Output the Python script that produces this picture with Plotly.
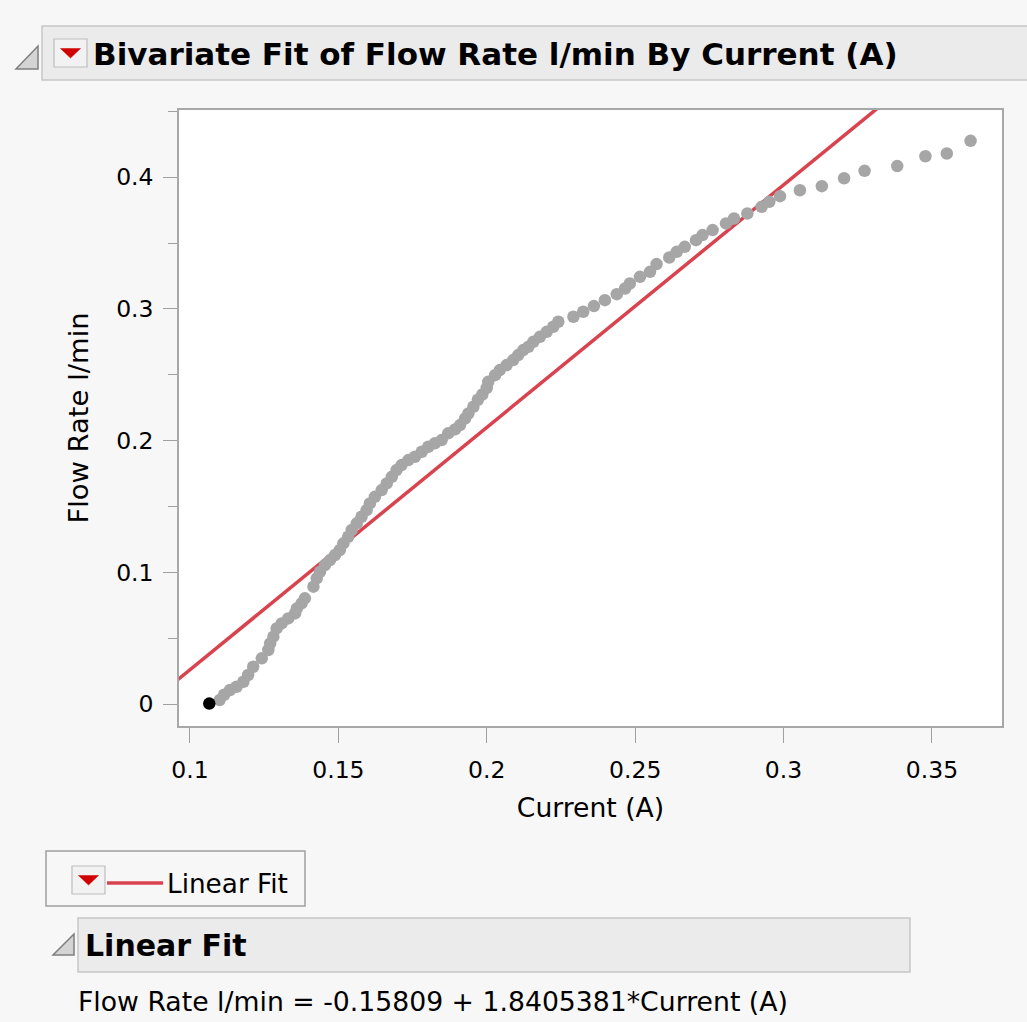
import plotly.graph_objects as go

# ---------------- data ----------------
current = [0.1100, 0.1115, 0.1135, 0.1157, 0.1180, 0.1196, 0.1213, 0.1242, 0.1264, 0.1270,
           0.1281, 0.1292, 0.1309, 0.1331, 0.1354, 0.1360, 0.1376, 0.1387, 0.1416, 0.1427,
           0.1438, 0.1455, 0.1472, 0.1489, 0.1505, 0.1517, 0.1533, 0.1545, 0.1562, 0.1578,
           0.1595, 0.1606, 0.1623, 0.1646, 0.1663, 0.1680, 0.1696, 0.1713, 0.1736, 0.1758,
           0.1781, 0.1803, 0.1825, 0.1848, 0.1870, 0.1893, 0.1910, 0.1927, 0.1938, 0.1955,
           0.1970, 0.1985, 0.2000, 0.2005, 0.2028, 0.2044, 0.2067, 0.2089, 0.2106, 0.2123,
           0.2140, 0.2157, 0.2179, 0.2202, 0.2224, 0.2241, 0.2292, 0.2325, 0.2361, 0.2398,
           0.2438, 0.2466, 0.2482, 0.2516, 0.2550, 0.2572, 0.2615, 0.2640, 0.2667, 0.2705,
           0.2727, 0.2761, 0.2806, 0.2833, 0.2878, 0.2926, 0.2952, 0.2988, 0.3055, 0.3129,
           0.3204, 0.3273, 0.3383, 0.3478, 0.3550, 0.3630]
flow_rate = [0.0030, 0.0070, 0.0106, 0.0131, 0.0169, 0.0220, 0.0283, 0.0347, 0.0410, 0.0460,
             0.0511, 0.0574, 0.0612, 0.0650, 0.0688, 0.0726, 0.0764, 0.0802, 0.0891, 0.0954,
             0.1004, 0.1055, 0.1093, 0.1131, 0.1169, 0.1220, 0.1270, 0.1321, 0.1372, 0.1422,
             0.1472, 0.1523, 0.1573, 0.1624, 0.1675, 0.1725, 0.1776, 0.1814, 0.1852, 0.1877,
             0.1915, 0.1953, 0.1979, 0.2004, 0.2055, 0.2085, 0.2118, 0.2168, 0.2206, 0.2257,
             0.2310, 0.2350, 0.2400, 0.2446, 0.2497, 0.2535, 0.2573, 0.2611, 0.2649, 0.2687,
             0.2712, 0.2750, 0.2788, 0.2826, 0.2864, 0.2902, 0.2940, 0.2978, 0.3021, 0.3066,
             0.3112, 0.3155, 0.3193, 0.3243, 0.3281, 0.3340, 0.3390, 0.3433, 0.3471, 0.3522,
             0.3560, 0.3598, 0.3649, 0.3686, 0.3724, 0.3775, 0.3813, 0.3856, 0.3901, 0.3932,
             0.3992, 0.4048, 0.4084, 0.4159, 0.4180, 0.4276]
selected_current = [0.1065]
selected_flow = [0.0003]

intercept = -0.15809
slope = 1.8405381
fit_x = [0.0960, 0.3740]
fit_y = [intercept + slope * v for v in fit_x]

x_range = [0.0963, 0.3736]
y_range = [-0.0167, 0.4510]

title_text = "Bivariate Fit of Flow Rate l/min By Current (A)"
x_title = "Current (A)"
y_title = "Flow Rate l/min"
legend_label = "Linear Fit"
section_title = "Linear Fit"
equation = "Flow Rate l/min = -0.15809 + 1.8405381*Current (A)"

# ---------------- layout helpers ----------------
W, H = 1027, 1022
L, R, T, B = 179, 1002, 110, 726
FONT = "DejaVu Sans, Open Sans, sans-serif"
RED = "#d8434f"


def px(x):
    return (x - L) / (R - L)


def py(y):
    return (B - y) / (B - T)


fig = go.Figure()
fig.add_trace(go.Scatter(x=fit_x, y=fit_y, mode="lines",
                         line=dict(color=RED, width=3.5), hoverinfo="skip"))
fig.add_trace(go.Scatter(x=current, y=flow_rate, mode="markers",
                         marker=dict(color="#a6a6a6", size=12.5, line=dict(width=0))))
fig.add_trace(go.Scatter(x=selected_current, y=selected_flow, mode="markers",
                         marker=dict(color="#000000", size=12.5, line=dict(width=0))))

shapes = []
annotations = []


def rect(x0, y0, x1, y1, fill, line, lw=1.5):
    shapes.append(dict(type="rect", xref="paper", yref="paper",
                       x0=px(x0), x1=px(x1), y0=py(y1), y1=py(y0),
                       fillcolor=fill, line=dict(color=line, width=lw), layer="below"))


def poly(points, fill, line, lw=1):
    path = "M " + " L ".join(f"{px(a):.5f},{py(b):.5f}" for a, b in points) + " Z"
    shapes.append(dict(type="path", xref="paper", yref="paper", path=path,
                       fillcolor=fill, line=dict(color=line, width=lw), layer="above"))


def text(x, y, s, size, bold=False, xanchor="left", color="#000000"):
    annotations.append(dict(xref="paper", yref="paper", x=px(x), y=py(y),
                            text=f"<b>{s}</b>" if bold else s, showarrow=False,
                            xanchor=xanchor, yanchor="middle",
                            font=dict(family=FONT, size=size, color=color)))


def button(x0, y0, x1, y1):
    shapes.append(dict(type="rect", xref="paper", yref="paper",
                       x0=px(x0), x1=px(x1), y0=py(y1), y1=py(y0),
                       fillcolor="#f2f2f2", line=dict(color="#bdbdbd", width=1.2), layer="above"))
    cx = (x0 + x1) / 2
    cy = (y0 + y1) / 2
    poly([(cx - 10, cy - 4.5), (cx + 10, cy - 4.5), (cx, cy + 5)], "#d10000", "#d10000", 0.5)


def disclosure(x0, y0, x1, y1):
    poly([(x0, y1), (x1, y1), (x1, y0)], "#d4d4d4", "#7f7f7f", 1.5)


# header bar
rect(42, 26, 1040, 80, "#ebebeb", "#c8c8c8")
disclosure(16, 46, 38, 69)
button(54, 39, 87, 67)
text(91, 54, title_text, 31, bold=True)

# legend box
rect(46, 851, 305, 906, "rgba(0,0,0,0)", "#a0a0a0")
button(72, 866, 105, 894)
shapes.append(dict(type="line", xref="paper", yref="paper", x0=px(107), x1=px(163),
                   y0=py(883), y1=py(883), line=dict(color=RED, width=3.5)))
text(165, 884, legend_label, 26.3)

# Linear fit section
rect(78, 918, 910, 972, "#ebebeb", "#c8c8c8")
disclosure(53, 934, 74, 955)
text(83, 945, section_title, 30, bold=True)
text(76, 1001, equation, 26.7)

fig.update_layout(
    width=W, height=H, autosize=False,
    margin=dict(l=L, r=W - R, t=T, b=H - B, pad=0),
    paper_bgcolor="#f7f7f7", plot_bgcolor="#ffffff",
    showlegend=False,
    shapes=shapes, annotations=annotations,
    font=dict(family=FONT, size=24, color="#000000"),
)
fig.update_xaxes(range=x_range, dtick=0.05, tick0=0.1, ticks="outside", ticklen=15,
                 tickwidth=1.2, tickcolor="#a0a0a0", showgrid=False, zeroline=False,
                 showline=True, linecolor="#a8a8a8", linewidth=1.5, mirror=True,
                 ticklabelstandoff=7,
                 tickfont=dict(family=FONT, size=23.5, color="#000000"),
                 title=dict(text=x_title, font=dict(family=FONT, size=26.6, color="#000000"), standoff=15))
fig.update_yaxes(range=y_range, dtick=0.1, tick0=0, ticks="outside", ticklen=14,
                 tickwidth=1.2, tickcolor="#a0a0a0", showgrid=False, zeroline=False,
                 showline=True, linecolor="#a8a8a8", linewidth=1.5, mirror=True,
                 ticklabelstandoff=5,
                 minor=dict(dtick=0.05, ticks="outside", ticklen=9, tickcolor="#a0a0a0", tickwidth=1.2),
                 tickfont=dict(family=FONT, size=23.5, color="#000000"),
                 title=dict(text=y_title, font=dict(family=FONT, size=27.4, color="#000000"), standoff=20))

fig.write_html("out.html")
